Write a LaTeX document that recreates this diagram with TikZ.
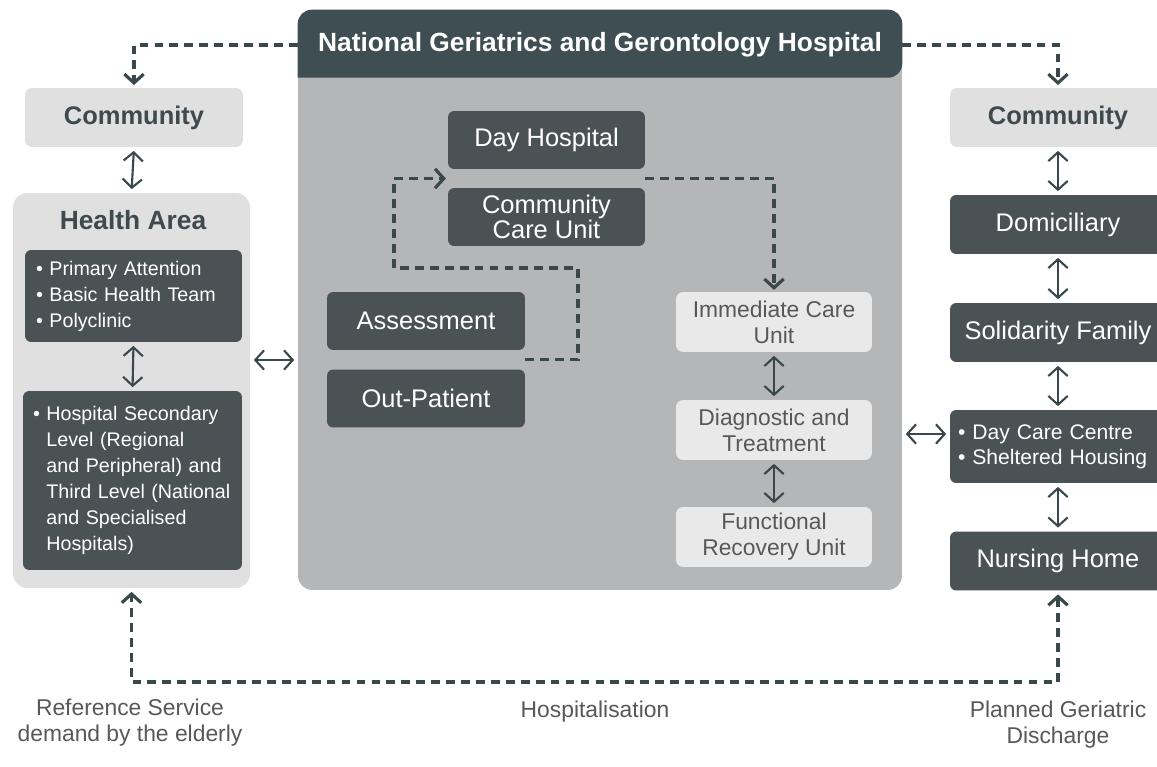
\documentclass[tikz,border=0pt]{standalone}
\usepackage{fontspec}
\setmainfont{Liberation Sans}
\usetikzlibrary{arrows.meta, calc, positioning}

\definecolor{boxdark}{RGB}{75,82,86}
\definecolor{headdark}{RGB}{62,78,82}
\definecolor{panelgray}{RGB}{180,182,184}
\definecolor{arealight}{RGB}{224,224,224}
\definecolor{unitlight}{RGB}{233,233,233}
\definecolor{linkcol}{RGB}{58,72,75}
\definecolor{txtdark}{RGB}{62,74,78}
\definecolor{txtgray}{RGB}{88,88,88}

\newcommand{\itm}{\textbullet\ }
\newcommand{\hang}{\phantom{\textbullet\ }}

\tikzset{
  darkbox/.style={rectangle, rounded corners=3.5pt, fill=boxdark, text=white,
    inner sep=0pt, align=center, minimum width=3.94cm, minimum height=1.16cm,
    font=\fontsize{14.5}{17}\selectfont},
  rightbox/.style={darkbox, minimum width=4.32cm, minimum height=1.18cm},
  listbox/.style={darkbox, align=left, inner xsep=0.2cm,
    font=\fontsize{11.2}{14.8}\selectfont},
  lightbox/.style={rectangle, rounded corners=4pt, fill=arealight, text=txtdark,
    minimum width=4.36cm, minimum height=1.18cm,
    font=\bfseries\fontsize{14.5}{17}\selectfont},
  unitbox/.style={rectangle, rounded corners=4pt, fill=unitlight, text=txtgray,
    inner sep=0pt, align=center, minimum width=3.92cm, minimum height=1.2cm,
    font=\fontsize{13}{14.8}\selectfont},
  panel/.style={rectangle, rounded corners=8pt, inner sep=0pt},
  note/.style={text=txtgray, align=center, font=\fontsize{13}{14.8}\selectfont},
  link/.style={draw=linkcol, line width=1.2pt, shorten <=2pt, shorten >=2pt,
    {Straight Barb[length=5pt,width=11pt]}-{Straight Barb[length=5pt,width=11pt]}},
  flow/.style={draw=linkcol, line width=1.8pt, dash pattern=on 5pt off 3.5pt,
    -{Straight Barb[length=5pt,width=11pt]}},
}

\begin{document}
\begin{tikzpicture}[x=0.02cm, y=-0.02cm]
    \useasboundingbox[fill=white] (0,0) rectangle (1157,767);

    % Hospital panel with its header
    \node[panel, fill=panelgray, minimum width=12.08cm, minimum height=11.6cm] (hosp) at (600,300) {};
    \fill[headdark] ($(hosp.north west)+(0,68)$) [rounded corners=8pt] |- (hosp.north)
        -| ($(hosp.north east)+(0,68)$) [sharp corners] -- cycle;
    \node[text=white, font=\bfseries\fontsize{15}{18}\selectfont,
        minimum width=12.08cm, inner sep=0pt] (title) at (600,45)
        {National Geriatrics and Gerontology Hospital};

    % Left column
    \node[lightbox] (commL) at (134,117.5) {Community};
    \node[panel, fill=arealight, minimum width=4.74cm, minimum height=7.9cm] (areaL) at (131.5,390.5) {};
    \node[text=txtdark, font=\bfseries\fontsize{15}{18}\selectfont] (areaT) at (133,220) {Health Area};
    \node[listbox, text width=3.9cm, minimum height=1.84cm, inner xsep=0.22cm] (primL) at (133.5,296)
        {\itm Primary Attention\\ \itm Basic Health Team\\ \itm Polyclinic};
    \node[listbox, text width=3.98cm, minimum height=3.58cm] (secL) at (132.5,480.5)
        {\itm Hospital Secondary\\ \hang Level (Regional\\ \hang and Peripheral) and\\
         \hang Third Level (National\\ \hang and Specialised\\ \hang Hospitals)};

    % Hospital units
    \node[darkbox] (dayH) at (546.5,140) {Day Hospital};
    \node[darkbox, font=\fontsize{14.5}{14.5}\selectfont] (ccu) at (546.5,217) {Community\\Care Unit};
    \node[darkbox, minimum width=3.96cm] (assess) at (426,321) {Assessment};
    \node[darkbox, minimum width=3.96cm] (outp) at (426,398.5) {Out-Patient};
    \node[unitbox] (icu) at (774,322) {Immediate Care\\Unit};
    \node[unitbox] (diag) at (774,430) {Diagnostic and\\Treatment};
    \node[unitbox] (fru) at (774,537) {Functional\\Recovery Unit};

    % Right column
    \node[lightbox, minimum width=4.32cm] (commR) at (1058,117.5) {Community};
    \node[rightbox] (domi) at (1058,224.5) {Domiciliary};
    \node[rightbox] (solid) at (1058,332.5) {Solidarity Family};
    \node[rightbox, align=left, text width=4.0cm, inner xsep=0.16cm, minimum height=1.46cm,
        font=\fontsize{12}{14.2}\selectfont] (dcc) at (1058,446.5)
        {\itm Day Care Centre\\ \itm Sheltered Housing};
    \node[rightbox] (nurse) at (1058,561) {Nursing Home};

    % Bottom labels
    \node[note] (refL) at (130,723) {Reference Service\\demand by the elderly};
    \node[note] (hospL) at (595,712) {Hospitalisation};
    \node[note] (planL) at (1058,725) {Planned Geriatric\\Discharge};

    % Two-way links
    \draw[link] (commL.south) -- (areaL.north);
    \draw[link] (primL.south) -- (secL.north);
    \draw[link] (icu.south) -- (diag.north);
    \draw[link] (diag.south) -- (fru.north);
    \draw[link] (commR.south) -- (domi.north);
    \draw[link] (domi.south) -- (solid.north);
    \draw[link] (solid.south) -- (dcc.north);
    \draw[link] (dcc.south) -- (nurse.north);
    \coordinate (midL) at (0,360);
    \coordinate (midR) at (0,434);
    \draw[link] (areaL.east |- midL) -- (hosp.west |- midL);
    \draw[link] (hosp.east |- midR) -- (dcc.west |- midR);

    % Dashed flows
    \draw[flow, shorten >=1.5pt] (title.west) -| (commL.north);
    \draw[flow, shorten >=1.5pt] (title.east) -| (commR.north);
    \coordinate (loopR) at (578,268);
    \coordinate (loopL) at (394,268);
    \draw[flow, shorten >=1pt] ($(assess.south east)!.5!(outp.north east)$) -| (loopR)
        -- (loopL) |- ($(dayH.south west)!.5!(ccu.north west)$);
    \draw[flow, shorten >=1pt] ($(dayH.south east)!.5!(ccu.north east)$) -| (icu.north);
    \coordinate (base) at (0,682);
    \draw[flow, {Straight Barb[length=5pt,width=11pt]}-{Straight Barb[length=5pt,width=11pt]},
        shorten <=2pt, shorten >=2pt] (nurse.south) -- (nurse.south |- base) -| (areaL.south);
\end{tikzpicture}
\end{document}
